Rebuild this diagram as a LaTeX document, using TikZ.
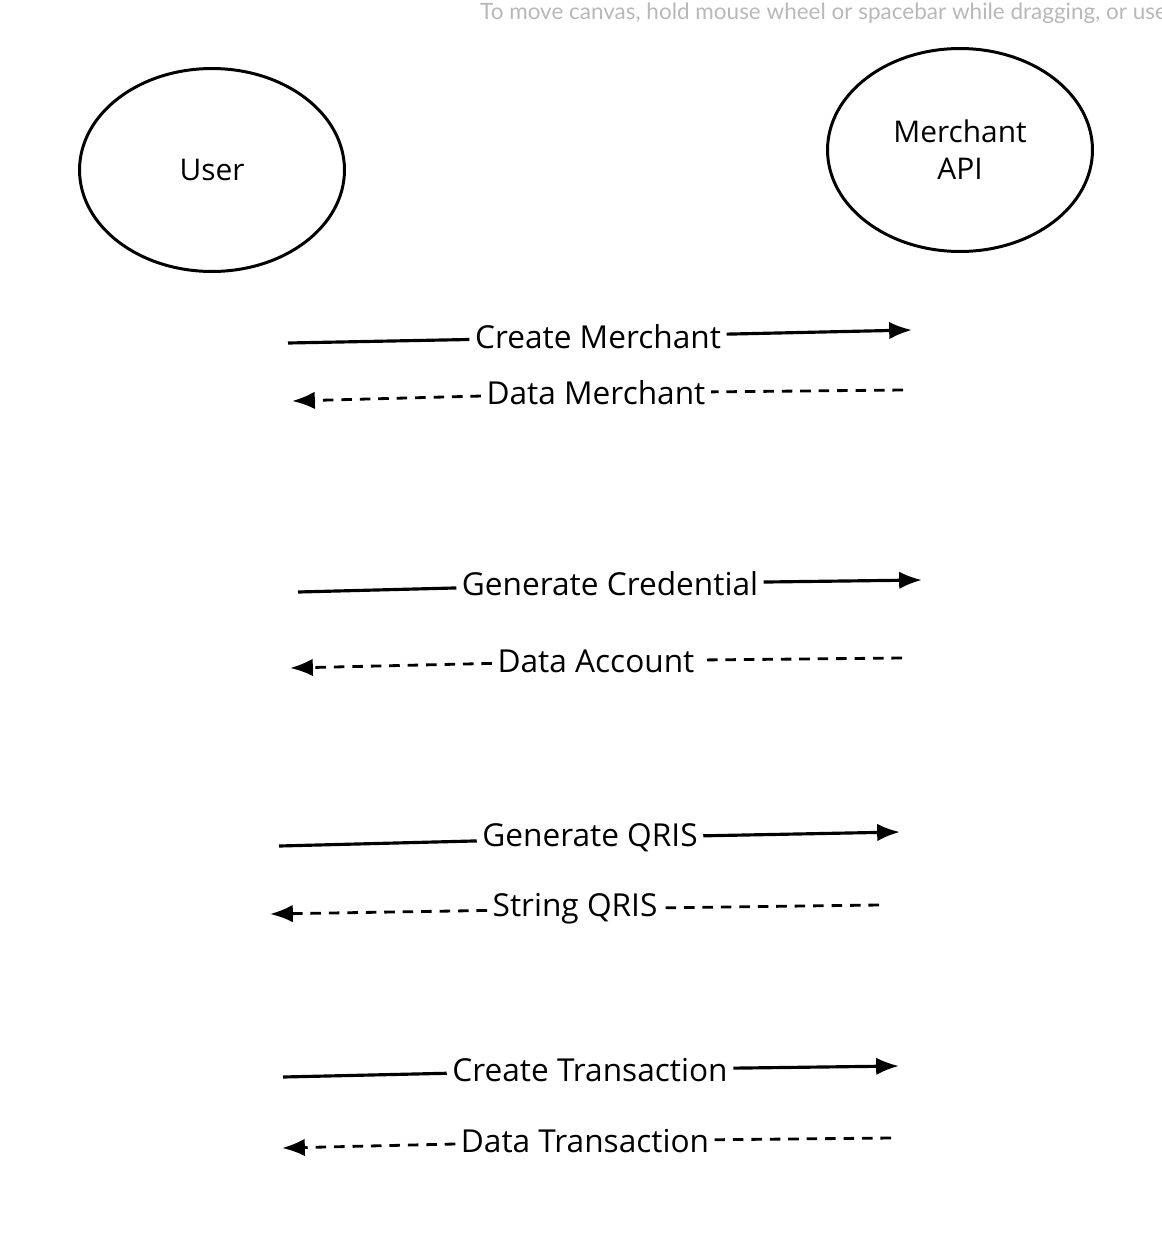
\documentclass[tikz,border=0pt]{standalone}
\usepackage{fontspec}
\setmainfont{Open Sans}
\newfontfamily\hintfont{Lato}
\usetikzlibrary{arrows.meta,positioning,shapes.geometric}
\tikzset{%
	actor/.style  = {draw, ellipse, line width=1.7pt, minimum width=5.3cm, minimum height=4.06cm, align=center, font=\fontsize{17}{21}\selectfont},
	msg/.style    = {fill=white, inner sep=3pt, font=\fontsize{18}{21}\selectfont},
	call/.style   = {line width=1.8pt},
	reply/.style  = {line width=1.6pt, dash pattern=on 6pt off 4.5pt},
	tip/.style    = {-{Latex[length=13pt,width=10pt]}},
}

\begin{document}
\begin{tikzpicture}[x=0.02cm,y=-0.02cm]
	\useasboundingbox (0,0) rectangle (1162,1248);
	\clip (0,0) rectangle (1162,1248);
	
	\node[anchor=west, text=black!28, font=\hintfont\fontsize{12.8}{15}\selectfont] (hint) at (474,13) {To move canvas, hold mouse wheel or spacebar while dragging, or use};
	
	\node[actor] (user) at (212,170) {User};
	\node[actor] (api) at (960,150) {Merchant\\API};
	
	% create merchant
	\coordinate (cmA) at (288,343);
	\coordinate (cmB) at (912,330);
	\node[msg] (cm) at (598,337) {Create Merchant};
	\draw[call] (cmA) -- (cm);
	\draw[call,tip] (cm) -- (cmB);
	
	\coordinate (dmA) at (903,390);
	\coordinate (dmB) at (292,401);
	\node[msg] (dm) at (596,393) {Data Merchant};
	\draw[reply] (dmA) -- (dm);
	\draw[reply,tip] (dm) -- (dmB);
	
	% credential
	\coordinate (gcA) at (298,592);
	\coordinate (gcB) at (922,580);
	\node[msg] (gc) at (610,584) {Generate Credential};
	\draw[call] (gcA) -- (gc);
	\draw[call,tip] (gc) -- (gcB);
	
	\coordinate (daA) at (902,658);
	\coordinate (daB) at (290,668);
	\node[msg] (da) at (596,661) {Data Account};
	\draw[reply] (daA) -- (da);
	\draw[reply,tip] (da) -- (daB);
	
	% qris
	\coordinate (gqA) at (279,846);
	\coordinate (gqB) at (900,832);
	\node[msg] (gq) at (590,838) {Generate QRIS};
	\draw[call] (gqA) -- (gq);
	\draw[call,tip] (gq) -- (gqB);
	
	\coordinate (sqA) at (879,905);
	\coordinate (sqB) at (270,914);
	\node[msg] (sq) at (575,909) {String QRIS};
	\draw[reply] (sqA) -- (sq);
	\draw[reply,tip] (sq) -- (sqB);
	
	% transaction
	\coordinate (ctA) at (283,1077);
	\coordinate (ctB) at (899,1066);
	\node[msg] (ct) at (590,1070) {Create Transaction};
	\draw[call] (ctA) -- (ct);
	\draw[call,tip] (ct) -- (ctB);
	
	\coordinate (dtA) at (891,1138);
	\coordinate (dtB) at (282,1148);
	\node[msg] (dt) at (585,1141) {Data Transaction};
	\draw[reply] (dtA) -- (dt);
	\draw[reply,tip] (dt) -- (dtB);
	
\end{tikzpicture}
\end{document}
